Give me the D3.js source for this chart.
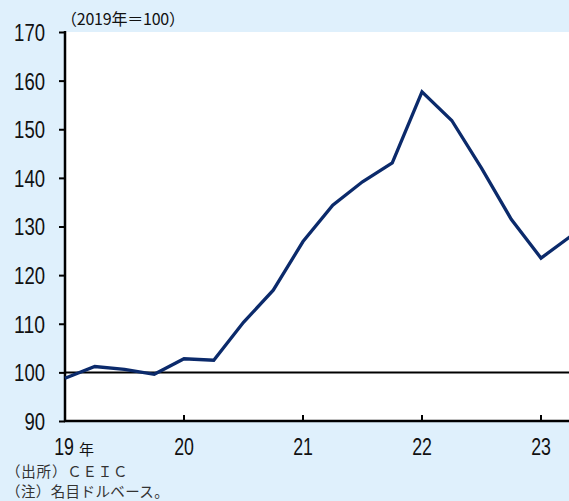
<!DOCTYPE html>
<html>
<head>
<meta charset="utf-8">
<script src="https://cdn.jsdelivr.net/npm/d3@7"></script>
<style>
html,body{margin:0;padding:0;background:#dff0fc;overflow:hidden;}
svg{display:block;}
</style>
</head>
<body>
<svg id="chart" width="569" height="501"></svg>
<script>
// Quarterly index, 2019 = 100 (2019Q1 .. 2023Q2)
const quarters = ["19Q1","19Q2","19Q3","19Q4","20Q1","20Q2","20Q3","20Q4","21Q1","21Q2","21Q3","21Q4","22Q1","22Q2","22Q3","22Q4","23Q1","23Q2"];
const values = [98.8,101.2,100.6,99.6,102.8,102.5,110.3,116.9,126.9,134.4,139.2,143.1,157.7,151.8,142.0,131.5,123.5,128.0];
const yTicks = [90,100,110,120,130,140,150,160,170];
const yearLabels = ["19","20","21","22","23"];
const unitLabel = "（2019年＝100）";
const notes = ["（出所）ＣＥＩＣ","（注）名目ドルベース。"];

(function(){
const svg = d3.select("#chart");
const mL = 65, mT = 32, mB = 421, mR = 569;
const qStep = 29.75;
const x = d3.scaleLinear().domain([0, quarters.length-1]).range([mL, mL + (quarters.length-1)*qStep]);
const y = d3.scaleLinear().domain([90,170]).range([mB, mT]);

svg.append("rect").attr("x",mL).attr("y",mT).attr("width",mR-mL).attr("height",mB-mT).attr("fill","#ffffff");

const numFont = "'Liberation Sans','Arial',sans-serif";
const jpFont = "'Noto Sans CJK JP',sans-serif";
const digitW = 10.3;

// Y axis
const yAxis = d3.axisLeft(y).tickValues(yTicks).tickSize(6).tickPadding(14);
const gy = svg.append("g").attr("transform",`translate(${mL},0)`).call(yAxis);
gy.select(".domain").remove();
gy.selectAll(".tick line").attr("stroke","#000").attr("stroke-width",2);
gy.selectAll(".tick text").attr("font-family",numFont).attr("font-size",23.5).attr("fill","#111")
  .attr("dy","0.36em")
  .attr("textLength",d=>String(d).length*digitW).attr("lengthAdjust","spacingAndGlyphs");
svg.append("line").attr("x1",mL).attr("x2",mL).attr("y1",mT-1).attr("y2",mB+1).attr("stroke","#000").attr("stroke-width",2.5);

// X axis (year ticks, inward)
const yearIdx = yearLabels.map((d,i)=>i*4);
const gx = svg.append("g");
gx.selectAll("line.tk").data(yearIdx.slice(1)).enter().append("line")
  .attr("x1",d=>x(d)).attr("x2",d=>x(d)).attr("y1",mB).attr("y2",mB-6)
  .attr("stroke","#000").attr("stroke-width",2);
gx.selectAll("g.yl").data(yearLabels).enter().append("g")
  .attr("transform",(d,i)=>`translate(${x(yearIdx[i]) - (i===0?1:0)},455) scale(0.74,1)`)
  .append("text")
  .attr("text-anchor","middle").attr("font-family",numFont).attr("font-size",24).attr("fill","#111")
  .text(d=>d);
svg.append("text").attr("x",79).attr("y",454.5).attr("font-family",jpFont).attr("font-size",15).attr("fill","#111").text("年");

// reference line at 100
svg.append("line").attr("x1",mL).attr("x2",mR).attr("y1",y(100)).attr("y2",y(100)).attr("stroke","#000").attr("stroke-width",2);

// data line
const line = d3.line().x((d,i)=>x(i)).y(d=>y(d));
svg.append("path").datum(values).attr("d",line).attr("fill","none").attr("stroke","#0b2a6b").attr("stroke-width",3.3);

// bottom axis line
svg.append("line").attr("x1",mL-1).attr("x2",mR).attr("y1",mB).attr("y2",mB).attr("stroke","#000").attr("stroke-width",2.5);

// unit label
svg.append("text").attr("x",61).attr("y",25).attr("font-family",jpFont).attr("font-size",16)
  .attr("fill","#111").attr("textLength",124).attr("lengthAdjust","spacing").text(unitLabel);

// notes
svg.selectAll("text.note").data(notes).enter().append("text")
  .attr("x",6).attr("y",(d,i)=>476.5+i*20).attr("font-family",jpFont).attr("font-size",14.5)
  .attr("letter-spacing",(d,i)=>i===0?"0.8px":"0.4px")
  .attr("fill","#333").text(d=>d);
})();
</script>
</body>
</html>
